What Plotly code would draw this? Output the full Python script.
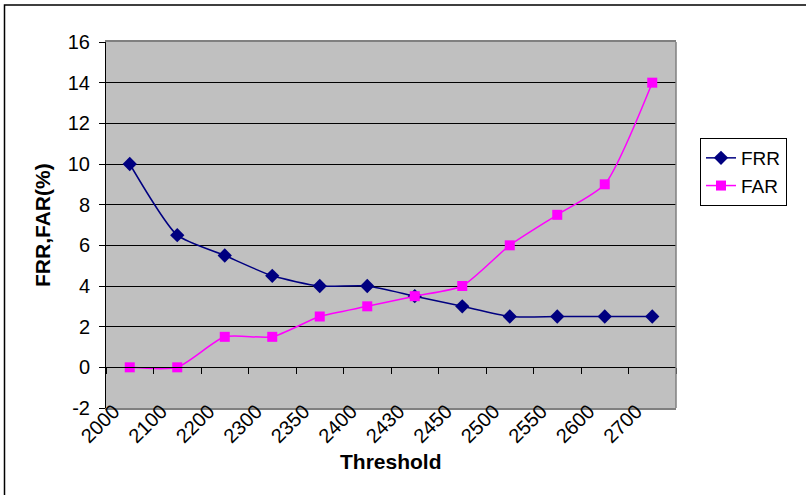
import plotly.graph_objects as go

categories = ["2000", "2100", "2200", "2300", "2350", "2400", "2430", "2450", "2500", "2550", "2600", "2700"]
frr = [10, 6.5, 5.5, 4.5, 4, 4, 3.5, 3, 2.5, 2.5, 2.5, 2.5]
far = [0, 0, 1.5, 1.5, 2.5, 3, 3.5, 4, 6, 7.5, 9, 14]
y_ticks = list(range(-2, 17, 2))

W, H = 806, 495
L, R, T, B = 106, 676, 42, 408
pw, ph = R - L, B - T

xs = list(range(len(categories)))
font = "Liberation Sans, Arial, sans-serif"

fig = go.Figure()
fig.add_trace(go.Scatter(
    x=xs, y=frr, name="FRR", mode="lines+markers",
    line=dict(color="#000080", width=1.5, shape="spline", smoothing=0.6),
    marker=dict(symbol="diamond", size=11, color="#000080"),
))
fig.add_trace(go.Scatter(
    x=xs, y=far, name="FAR", mode="lines+markers",
    line=dict(color="#FF00FF", width=1.5, shape="spline", smoothing=0.6),
    marker=dict(symbol="square", size=10, color="#FF00FF"),
))

def px_x(p):
    return (p - L) / pw

def px_y(p):
    return (B - p) / ph

edges = [i - 0.5 for i in range(len(categories) + 1)]

fig.update_layout(
    width=W, height=H,
    margin=dict(l=L, r=W - R, t=T, b=H - B),
    paper_bgcolor="white", plot_bgcolor="#C0C0C0",
    font=dict(family=font, size=18, color="black"),
    showlegend=True,
    legend=dict(
        x=px_x(700), y=px_y(138), xanchor="left", yanchor="top",
        bordercolor="black", borderwidth=1, bgcolor="white",
        font=dict(size=19), tracegroupgap=0, itemwidth=30,
    ),
    xaxis=dict(
        range=[-0.5, len(categories) - 0.5],
        tickvals=xs, ticktext=categories, tickangle=-45,
        ticks="", showgrid=False, zeroline=False,
        showline=True, linecolor="#808080", linewidth=1.5, mirror=True,
        tickfont=dict(size=20), ticklabelstandoff=-18, ticklabelshift=-16,
    ),
    xaxis2=dict(
        overlaying="x", anchor="free", position=2 / 18,
        range=[-0.5, len(categories) - 0.5],
        tickvals=edges, ticks="outside", ticklen=6, tickcolor="black",
        showticklabels=False, showgrid=False, zeroline=False,
        showline=True, linecolor="black", linewidth=1,
    ),
    yaxis=dict(
        range=[-2, 16], tickvals=y_ticks, ticktext=[str(v) for v in y_ticks],
        showgrid=True, gridcolor="black", gridwidth=1, zeroline=False,
        showline=True, linecolor="black", linewidth=1,
        ticks="outside", ticklen=6, tickcolor="black",
        ticklabelstandoff=5, tickfont=dict(size=20),
    ),
    shapes=[
        dict(type="line", xref="paper", yref="paper", x0=1, x1=1, y0=0, y1=1,
             line=dict(color="#808080", width=1.5)),
        dict(type="rect", xref="paper", yref="paper",
             x0=px_x(4.5), x1=px_x(W + 20), y0=px_y(5), y1=px_y(H + 20),
             line=dict(color="black", width=1.5)),
    ],
    annotations=[
        dict(text="<b>Threshold</b>", xref="paper", yref="paper",
             x=0.5, y=px_y(461), showarrow=False, font=dict(size=21),
             xanchor="center", yanchor="middle"),
        dict(text="<b>FRR,FAR(%)</b>", xref="paper", yref="paper",
             x=px_x(42), y=0.5, showarrow=False, font=dict(size=21),
             textangle=-90, xanchor="center", yanchor="middle"),
    ],
)
fig.add_trace(go.Scatter(x=[None], y=[None], xaxis="x2", showlegend=False, hoverinfo="skip"))

fig.write_html("out.html", config={"displayModeBar": False},
               post_script="document.body.style.margin='0';")
